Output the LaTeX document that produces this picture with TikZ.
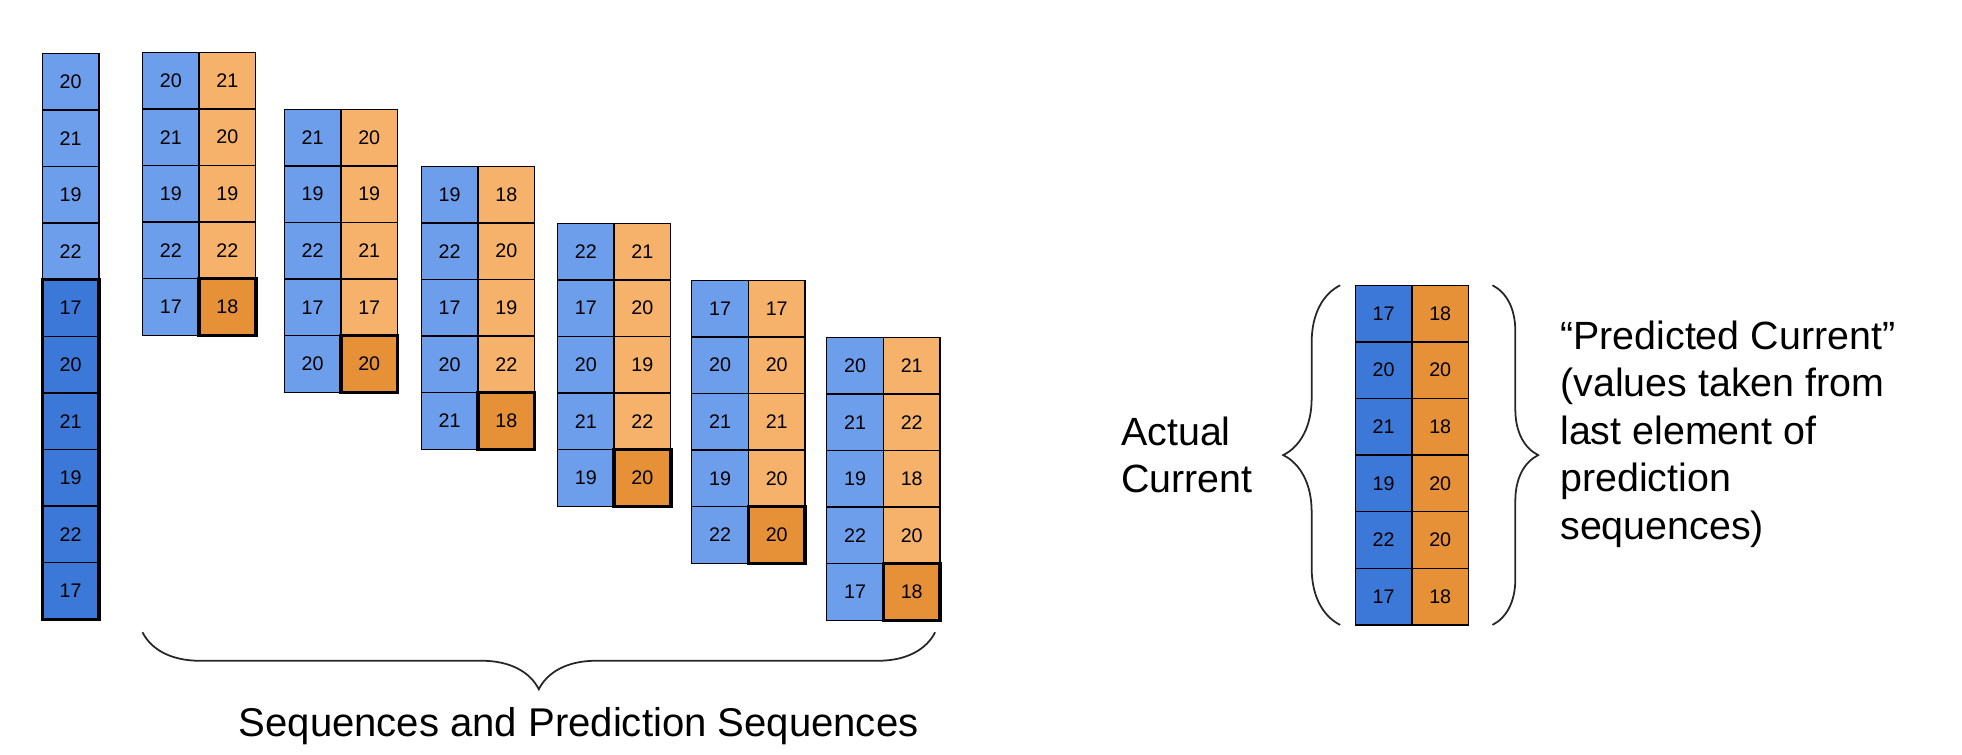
\documentclass[tikz,border=0pt]{standalone}
\usepackage{fontspec}
\setmainfont{Liberation Sans}
\usetikzlibrary{positioning, decorations.pathreplacing}

\definecolor{seqblue}{HTML}{6D9EEB}
\definecolor{curblue}{HTML}{3C78D8}
\definecolor{predorange}{HTML}{F6B26B}
\definecolor{curorange}{HTML}{E69138}

\begin{document}
\begin{tikzpicture}[
      x=0.01cm, y=-0.01cm,
      node distance=0pt,
      cell/.style={rectangle, draw, line width=0.4pt, minimum size=5.66mm, inner sep=0pt, outer sep=0pt, font=\fontsize{5.6}{6}\selectfont},
      seqin/.style={cell, fill=seqblue},
      seqout/.style={cell, fill=predorange},
      curin/.style={cell, fill=curblue},
      lastout/.style={cell, fill=curorange},
      hilite/.style={draw, line width=1pt},
      bigtext/.style={align=left, inner sep=0pt, font=\fontsize{11.2}{13.5}\selectfont},
      sbrace/.style={decorate, decoration={brace, amplitude=#1}, line width=0.5pt, draw=black!85}
    ]
    \useasboundingbox (0,0) rectangle (1962,755);

    % input history
    \foreach \v [count=\r] in {20,21,19,22,17,20,21,19,22,17} {
      \ifnum\r>4 \def\hstyle{curin}\else\def\hstyle{seqin}\fi
      \node[\hstyle] (hist-\r) at (70.6, 25.0+56.6*\r) {\v};
    }
    \draw[hilite] (hist-5.north west) rectangle (hist-10.south east);

    % sequences and prediction sequences
    \foreach \g/\gx/\gy/\vals in {
        1/142.5/52.3/{20/21,21/20,19/19,22/22,17/18},
        2/284.3/109.3/{21/20,19/19,22/21,17/17,20/20},
        3/421.4/166.3/{19/18,22/20,17/19,20/22,21/18},
        4/557.5/223.3/{22/21,17/20,20/19,21/22,19/20},
        5/691.8/280.3/{17/17,20/20,21/21,19/20,22/20},
        6/826.8/337.3/{20/21,21/22,19/18,22/20,17/18}} {
      \foreach \a/\b [count=\r] in \vals {
        \node[seqin] (s\g-\r-in) at (\gx+28.3, \gy+56.6*\r-28.3) {\a};
        \ifnum\r=5 \def\ostyle{lastout}\else\def\ostyle{seqout}\fi
        \node[\ostyle, right=of s\g-\r-in] (s\g-\r-out) {\b};
      }
      \draw[hilite] (s\g-5-out.north west) rectangle (s\g-5-out.south east);
    }

    % actual vs predicted
    \foreach \a/\b [count=\r] in {17/18,20/20,21/18,19/20,22/20,17/18} {
      \node[curin] (act-\r) at (1383.6, 257.0+56.6*\r) {\a};
      \node[lastout, right=of act-\r] (pred-\r) {\b};
    }

    % braces
    \coordinate (brR) at ([xshift=-1.4pt, yshift=-3.4pt]s6-5-out.south east);
    \coordinate (brL) at (brR -| s1-1-in.west);
    \draw[sbrace=16.2pt] (brR) -- (brL);
    \draw[sbrace=16.2pt] ([xshift=-4.3pt]act-6.south west) -- ([xshift=-4.3pt]act-1.north west);
    \draw[sbrace=13pt] ([xshift=6.8pt]pred-1.north east) -- ([xshift=6.8pt]pred-6.south east);

    \node[bigtext, left=10.2mm of act-3.south west] (actual) {Actual\\Current};
    \node[bigtext, right=9.1mm of pred-3.south east, yshift=2.1mm] (predicted) {“Predicted Current”\\(values taken from\\last element of\\prediction\\sequences)};
    \node[bigtext, anchor=base west, font=\fontsize{11.4}{13.5}\selectfont] (seqtext) at (238, 737) {Sequences and Prediction Sequences};
  \end{tikzpicture}
\end{document}
